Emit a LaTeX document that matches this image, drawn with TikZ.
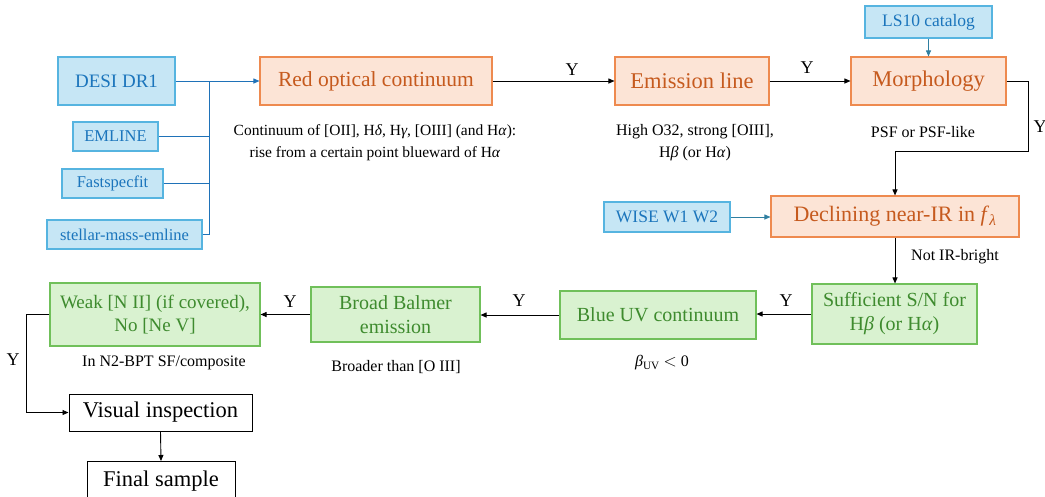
\documentclass[tikz,border=0pt]{standalone}
\usepackage{fontspec}
\setmainfont{Liberation Serif}
\usetikzlibrary{arrows.meta}
\definecolor{bfill}{HTML}{C6E6F5}
\definecolor{bdraw}{HTML}{56B4E0}
\definecolor{btext}{HTML}{1B75BC}
\definecolor{bline}{HTML}{1F72B8}
\definecolor{tline}{HTML}{2F7FA1}
\definecolor{ofill}{HTML}{FCE4D6}
\definecolor{odraw}{HTML}{EE8A4F}
\definecolor{otext}{HTML}{C65A1E}
\definecolor{gfill}{HTML}{D9F2D0}
\definecolor{gdraw}{HTML}{70C05A}
\definecolor{gtext}{HTML}{3E8B2E}
\newcommand{\gk}[1]{\textit{#1}}
\begin{document}
\begin{tikzpicture}[x=1pt,y=-1pt,
  box/.style={rectangle,inner sep=0pt,align=center,line width=1.1pt},
  srcbox/.style={box,fill=bfill,draw=bdraw,text=btext,font=\fontsize{16.5}{19}\selectfont},
  obox/.style={box,fill=ofill,draw=odraw,text=otext,font=\fontsize{22.5}{26}\selectfont},
  gbox/.style={box,fill=gfill,draw=gdraw,text=gtext,font=\fontsize{20}{24}\selectfont},
  kbox/.style={box,fill=white,draw=black,text=black,line width=1pt,font=\fontsize{22.5}{26}\selectfont},
  captxt/.style={align=center,inner sep=0pt,font=\fontsize{16}{22}\selectfont},
  ylab/.style={inner sep=0pt,font=\fontsize{18}{20}\selectfont},
  arr/.style={line width=0.9pt,-{Triangle[length=6pt,width=5pt]}},
  barr/.style={arr,draw=bline},
  tarr/.style={arr,draw=tline},
  bln/.style={line width=0.9pt,draw=bline}]
\useasboundingbox (0,0) rectangle (1045,496);
% source boxes
\node[srcbox,minimum width=117pt,minimum height=48pt,font=\fontsize{19}{22}\selectfont] (desi) at (116.5,81) {DESI DR1};
\node[srcbox,minimum width=85pt,minimum height=29pt] (emline) at (115.5,136.5) {EMLINE};
\node[srcbox,minimum width=101pt,minimum height=29pt] (fast) at (112.5,183.5) {Fastspecfit};
\node[srcbox,minimum width=155pt,minimum height=29pt] (stellar) at (124.5,234.5) {stellar-mass-emline};
\node[srcbox,minimum width=127pt,minimum height=32pt,font=\fontsize{17.5}{20}\selectfont] (ls10) at (928.5,22) {LS10 catalog};
\node[srcbox,minimum width=126pt,minimum height=30pt,font=\fontsize{17.5}{20}\selectfont] (wise) at (667,217) {WISE W1 W2};
% orange boxes
\node[obox,minimum width=232pt,minimum height=48pt,font=\fontsize{21.5}{25}\selectfont] (red) at (376,81) {Red optical continuum};
\node[obox,minimum width=154pt,minimum height=48pt] (emis) at (692,81) {Emission line};
\node[obox,minimum width=155pt,minimum height=48pt] (morph) at (928.5,81) {Morphology};
\node[obox,minimum width=248pt,minimum height=41pt,font=\fontsize{22}{25}\selectfont] (decl) at (895,216.5) {Declining near-IR in \textit{f}\textsubscript{\textit{λ}}};
% green boxes
\node[gbox,minimum width=165pt,minimum height=60pt] (suff) at (894.5,314) {Sufficient S/N for\\H\gk{β} (or H\gk{α})};
\node[gbox,minimum width=196pt,minimum height=48pt] (blue) at (658,315) {Blue UV continuum};
\node[gbox,minimum width=169pt,minimum height=55pt] (broad) at (395.5,314.5) {Broad Balmer\\emission};
\node[gbox,minimum width=210pt,minimum height=63pt,font=\fontsize{19}{23}\selectfont] (weak) at (155,314.5) {Weak [N II] (if covered),\\No [Ne V]};
% black boxes
\node[kbox,minimum width=183pt,minimum height=37pt] (visual) at (160.5,412.5) {Visual inspection};
\node[kbox,minimum width=148pt,minimum height=40pt,anchor=north] (final) at (161,461) {\raisebox{-3pt}{Final sample}};
% captions
\node[captxt,font=\fontsize{15.5}{22}\selectfont] (c1) at (375,143) {Continuum of [OII], H\gk{δ}, H\gk{γ}, [OIII] (and H\gk{α}):\\rise from a certain point blueward of H\gk{α}};
\node[captxt] (c2) at (695,143) {High O32, strong [OIII],\\H\gk{β} (or H\gk{α})};
\node[captxt] (c3) at (923,132) {PSF or PSF-like};
\node[captxt] (c4) at (955,257) {Not IR-bright};
\node[captxt] (c5) at (662,363) {\gk{β}\textsubscript{UV} $<$ 0};
\node[captxt] (c6) at (164,363) {In N2-BPT SF/composite};
\node[captxt] (c7) at (396,367) {Broader than [O III]};
% Y labels
\node[ylab] (y1) at (572,70) {Y};
\node[ylab] (y2) at (807,68) {Y};
\node[ylab] (y3) at (1040,127) {Y};
\node[ylab] (y4) at (786,301) {Y};
\node[ylab] (y5) at (519,301) {Y};
\node[ylab] (y6) at (290,302) {Y};
\node[ylab] (y7) at (13,360) {Y};
% source bus
\coordinate (bus) at (209,81);
\draw[barr] (desi.east) -- (red.west);
\draw[bln] (emline.east) -- (emline.east -| bus);
\draw[bln] (fast.east) -- (fast.east -| bus);
\draw[bln] (stellar.east) -| (bus);
\draw[tarr] (ls10.south) -- (morph.north);
\draw[tarr] (wise.east) -- (wise.east -| decl.west);
% main flow
\draw[arr] (red.east) -- (emis.west);
\draw[arr] (emis.east) -- (morph.west);
\coordinate (m1) at (1028,151);
\draw[arr] (morph.east) -| (m1) -| (decl.north);
\draw[arr] (decl.south) -- (decl.south |- suff.north);
\draw[arr] (suff.west) -- (suff.west -| blue.east);
\draw[arr] (blue.west) -- (blue.west -| broad.east);
\draw[arr] (broad.west) -- (broad.west -| weak.east);
\draw[arr] (weak.west) -- ++(-23,0) |- (visual.west);
\draw[arr] (visual.south) -- (final.north);
\end{tikzpicture}
\end{document}
